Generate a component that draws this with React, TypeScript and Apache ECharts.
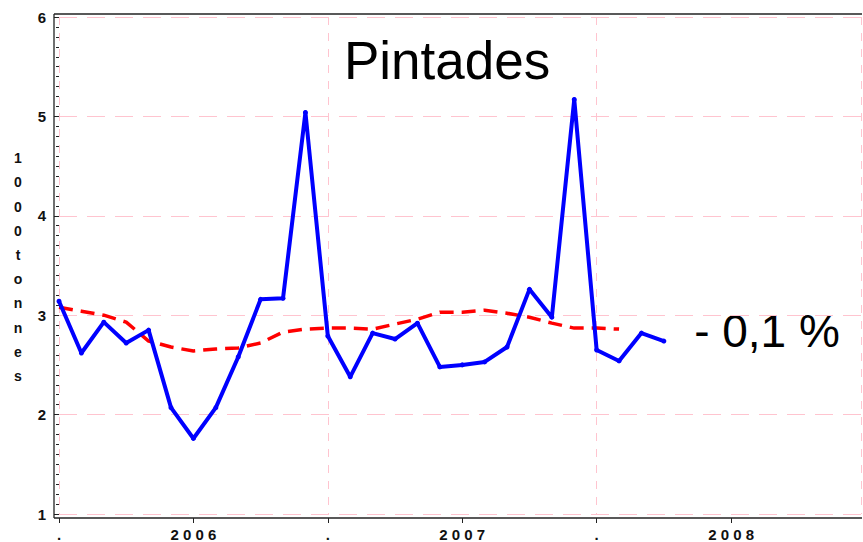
import React, { useEffect, useRef } from "react";
import * as echarts from "echarts";

const xTickLabels = [".", "2006", ".", "2007", ".", "2008"];
const monthlyValues = [
  3.14, 2.62, 2.93, 2.72, 2.85, 2.07, 1.76, 2.07, 2.58, 3.16, 3.17, 5.04,
  2.79, 2.38, 2.82, 2.76, 2.92, 2.48, 2.5, 2.53, 2.68, 3.26, 2.98, 5.17,
  2.65, 2.54, 2.82, 2.74,
];
const trendValues = [
  3.08, 3.04, 3.0, 2.93, 2.74, 2.68, 2.64, 2.66, 2.67, 2.72, 2.83, 2.86,
  2.87, 2.87, 2.86, 2.91, 2.96, 3.03, 3.03, 3.05, 3.02, 2.98, 2.92, 2.87,
  2.87, 2.86,
];
const titleText = "Pintades";
const changeText = "- 0,1 %";
const yName = "1000tonnes";

const FONT = "'Liberation Sans', Arial, sans-serif";

export default function App() {
  const ref = useRef<HTMLDivElement>(null);
  useEffect(() => {
    if (!ref.current) return;
    const chart = echarts.init(ref.current, null, { renderer: "svg" });
    const pink = "#ffc4cf";
    chart.setOption({
      animation: false,
      backgroundColor: "#fff",
      grid: { left: 59, right: 2, top: 17, bottom: 28, containLabel: false },
      xAxis: {
        type: "value",
        min: 0,
        max: 35.8,
        interval: 6,
        offset: 4,
        axisLine: { show: false },
        axisTick: { show: true, length: 5, lineStyle: { color: "#222", width: 1 } },
        axisLabel: {
          showMaxLabel: false,
          margin: 9,
          color: "#111",
          fontFamily: FONT,
          fontWeight: "bold",
          fontSize: 15,
          formatter: (v: number) => {
            const i = Math.round(v / 6);
            return xTickLabels[i] !== undefined ? xTickLabels[i].split("").join(" ") : "";
          },
        },
        splitLine: {
          show: true,
          lineStyle: { color: [pink, "rgba(0,0,0,0)"], type: [8, 8], width: 1 },
        },
      },
      yAxis: {
        type: "value",
        min: 1,
        max: 6,
        interval: 1,
        offset: 5,
        axisLine: { show: false },
        axisTick: { show: true, length: 5, lineStyle: { color: "#222" } },
        minorTick: { show: true, splitNumber: 10, length: 3, lineStyle: { color: "#222" } },
        axisLabel: {
          margin: 8,
          color: "#111",
          fontFamily: FONT,
          fontWeight: "bold",
          fontSize: 15,
        },
        splitLine: { show: true, lineStyle: { color: pink, type: [18, 10], width: 1 } },
      },
      graphic: [
        { type: "line", shape: { x1: 54, y1: 14, x2: 862, y2: 14 }, style: { stroke: "#222", lineWidth: 1.3 } },
        { type: "line", shape: { x1: 54, y1: 14, x2: 54, y2: 518 }, style: { stroke: "#222", lineWidth: 1.3 } },
        { type: "line", shape: { x1: 54, y1: 518, x2: 862, y2: 518 }, style: { stroke: "#222", lineWidth: 1.3 } },
        {
          type: "text",
          x: 447,
          y: 60,
          style: {
            text: titleText,
            font: `53px ${FONT}`,
            fill: "#000",
            textAlign: "center",
            textVerticalAlign: "middle",
          },
        },
        {
          type: "text",
          x: 767,
          y: 331,
          style: {
            text: changeText,
            font: `46px ${FONT}`,
            fill: "#000",
            textAlign: "center",
            textVerticalAlign: "middle",
          },
        },
        {
          type: "text",
          x: 18,
          y: 146,
          style: {
            text: yName.split("").join("\n"),
            font: `bold 14px ${FONT}`,
            lineHeight: 24.2,
            fill: "#111",
            textAlign: "center",
            textVerticalAlign: "top",
          },
        },
      ],
      series: [
        {
          type: "line",
          data: trendValues.map((v, i) => [i, v]),
          showSymbol: false,
          smooth: false,
          lineStyle: { color: "#ff0000", width: 3.5, type: [14, 8] },
          z: 2,
        },
        {
          type: "line",
          data: monthlyValues.map((v, i) => [i, v]),
          symbol: "circle",
          symbolSize: 5,
          itemStyle: { color: "#0000ff" },
          lineStyle: { color: "#0000ff", width: 4, join: "round", cap: "round" },
          z: 3,
        },
      ],
    });
    return () => chart.dispose();
  }, []);
  return <div ref={ref} style={{ width: 863, height: 542, position: "absolute", left: 0, top: 0 }} />;
}
